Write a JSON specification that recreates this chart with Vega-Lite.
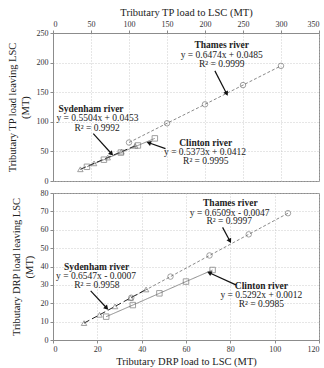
{
  "$schema": "https://vega.github.io/schema/vega-lite/v6.json",
  "padding": {"left": 6, "top": 6, "right": 4, "bottom": 2},
  "background": "white",
  "spacing": 2,
  "config": {
    "font": "Liberation Serif",
    "text": {"font": "Liberation Serif"},
    "view": {"stroke": "#8c8c8c", "strokeWidth": 1},
    "axis": {
      "labelFont": "Liberation Serif", "titleFont": "Liberation Serif",
      "labelFontSize": 8, "titleFontSize": 10.5, "titleFontWeight": "normal",
      "labelColor": "#333", "titleColor": "#222", "labelOverlap": false, "labelSeparation": 0, "labelPadding": 2,
      "domainColor": "#8c8c8c", "tickColor": "#8c8c8c", "tickSize": 3,
      "gridColor": "#c0c0c0", "gridDash": [1, 2], "gridWidth": 0.8
    }
  },
  "datasets": {
    "pts": [
      {"panel": "TP", "river": "Thames", "x": 100, "y": 65},
      {"panel": "TP", "river": "Thames", "x": 150, "y": 97.5},
      {"panel": "TP", "river": "Thames", "x": 200, "y": 129.5},
      {"panel": "TP", "river": "Thames", "x": 250, "y": 162},
      {"panel": "TP", "river": "Thames", "x": 300, "y": 194.5},
      {"panel": "TP", "river": "Clinton", "x": 44.7, "y": 24},
      {"panel": "TP", "river": "Clinton", "x": 67, "y": 36},
      {"panel": "TP", "river": "Clinton", "x": 89.3, "y": 48},
      {"panel": "TP", "river": "Clinton", "x": 111.7, "y": 60},
      {"panel": "TP", "river": "Clinton", "x": 134, "y": 72},
      {"panel": "TP", "river": "Sydenham", "x": 36, "y": 19.8},
      {"panel": "TP", "river": "Sydenham", "x": 54, "y": 29.8},
      {"panel": "TP", "river": "Sydenham", "x": 72, "y": 39.6},
      {"panel": "TP", "river": "Sydenham", "x": 90, "y": 49.5},
      {"panel": "TP", "river": "Sydenham", "x": 108, "y": 59.4},
      {"panel": "DRP", "river": "Thames", "x": 35.3, "y": 23},
      {"panel": "DRP", "river": "Thames", "x": 53, "y": 34.5},
      {"panel": "DRP", "river": "Thames", "x": 70.6, "y": 46},
      {"panel": "DRP", "river": "Thames", "x": 88.3, "y": 57.5},
      {"panel": "DRP", "river": "Thames", "x": 106, "y": 69},
      {"panel": "DRP", "river": "Clinton", "x": 24, "y": 12.7},
      {"panel": "DRP", "river": "Clinton", "x": 36, "y": 19},
      {"panel": "DRP", "river": "Clinton", "x": 48, "y": 25.4},
      {"panel": "DRP", "river": "Clinton", "x": 60, "y": 31.8},
      {"panel": "DRP", "river": "Clinton", "x": 72, "y": 38.1},
      {"panel": "DRP", "river": "Sydenham", "x": 14, "y": 9.2},
      {"panel": "DRP", "river": "Sydenham", "x": 21, "y": 13.7},
      {"panel": "DRP", "river": "Sydenham", "x": 28, "y": 18.3},
      {"panel": "DRP", "river": "Sydenham", "x": 35, "y": 22.9},
      {"panel": "DRP", "river": "Sydenham", "x": 42, "y": 27.5}
    ],
    "notes": [
      {"panel": "TP", "kind": "name", "x": 222, "y": 229, "label": "Thames river"},
      {"panel": "TP", "kind": "eq", "x": 222, "y": 213, "label": "y = 0.6474x + 0.0485"},
      {"panel": "TP", "kind": "eq", "x": 222, "y": 197, "label": "R² = 0.9999"},
      {"panel": "TP", "kind": "name", "x": 50, "y": 121, "label": "Sydenham river"},
      {"panel": "TP", "kind": "eq", "x": 58.5, "y": 106, "label": "y = 0.5504x + 0.0453"},
      {"panel": "TP", "kind": "eq", "x": 58, "y": 90, "label": "R² = 0.9992"},
      {"panel": "TP", "kind": "name", "x": 201, "y": 64, "label": "Clinton river"},
      {"panel": "TP", "kind": "eq", "x": 200, "y": 48.5, "label": "y = 0.5373x + 0.0412"},
      {"panel": "TP", "kind": "eq", "x": 201, "y": 33, "label": "R² = 0.9995"},
      {"panel": "DRP", "kind": "name", "x": 80, "y": 74.5, "label": "Thames river"},
      {"panel": "DRP", "kind": "eq", "x": 79.7, "y": 69.3, "label": "y = 0.6509x - 0.0047"},
      {"panel": "DRP", "kind": "eq", "x": 79.5, "y": 64.5, "label": "R² = 0.9997"},
      {"panel": "DRP", "kind": "name", "x": 19.7, "y": 39.5, "label": "Sydenham river"},
      {"panel": "DRP", "kind": "eq", "x": 19.4, "y": 34.8, "label": "y = 0.6547x - 0.0007"},
      {"panel": "DRP", "kind": "eq", "x": 19.8, "y": 30, "label": "R² = 0.9958"},
      {"panel": "DRP", "kind": "name", "x": 94, "y": 29.5, "label": "Clinton river"},
      {"panel": "DRP", "kind": "eq", "x": 94, "y": 24.7, "label": "y = 0.5292x + 0.0012"},
      {"panel": "DRP", "kind": "eq", "x": 94, "y": 19.8, "label": "R² = 0.9985"}
    ],
    "arrows": [
      {"panel": "TP", "x": 213, "y": 186, "x2": 228.5, "y2": 147.5, "angle": 153},
      {"panel": "TP", "x": 53, "y": 80, "x2": 77, "y2": 46, "angle": 137},
      {"panel": "TP", "x": 148, "y": 54.6, "x2": 126, "y2": 64.7, "angle": 290},
      {"panel": "DRP", "x": 76.5, "y": 61.3, "x2": 79.8, "y2": 53.9, "angle": 152},
      {"panel": "DRP", "x": 17, "y": 26.7, "x2": 24.2, "y2": 17.4, "angle": 137},
      {"panel": "DRP", "x": 82.5, "y": 30, "x2": 70.5, "y2": 36.6, "angle": 295}
    ]
  },
  "vconcat": [
    {
      "width": 266, "height": 148,
      "layer": [
        {
          "data": {"name": "pts"},
          "transform": [{"filter": "datum.panel == 'TP'"}],
          "mark": {"type": "line", "strokeWidth": 1},
          "encoding": {
            "x": {"field": "x", "type": "quantitative", "scale": {"domain": [0, 350], "nice": false},
                  "axis": {"orient": "top", "tickCount": 7, "labelOverlap": false, "title": "Tributary TP load to LSC (MT)", "titlePadding": 3}},
            "y": {"field": "y", "type": "quantitative", "scale": {"domain": [0, 250], "nice": false},
                  "axis": {"tickCount": 5, "labelOverlap": false, "title": ["Tributary TP load leaving LSC", "(MT)"], "titlePadding": 6}},
            "detail": {"field": "river"},
            "color": {"field": "river", "type": "nominal", "legend": null,
                      "scale": {"domain": ["Thames", "Clinton", "Sydenham"], "range": ["#8a8a8a", "#8a8a8a", "#222222"]}},
            "strokeDash": {"field": "river", "type": "nominal", "legend": null,
                      "scale": {"domain": ["Thames", "Clinton", "Sydenham"], "range": [[3, 2], [1, 0], [6, 3]]}}
          }
        },
        {
          "data": {"name": "pts"},
          "transform": [{"filter": "datum.panel == 'TP'"}],
          "mark": {"type": "point", "filled": false, "strokeWidth": 0.9, "size": 30, "color": "#6a6a6a"},
          "encoding": {
            "x": {"field": "x", "type": "quantitative"},
            "y": {"field": "y", "type": "quantitative"},
            "shape": {"field": "river", "type": "nominal", "legend": null,
                      "scale": {"domain": ["Thames", "Clinton", "Sydenham"], "range": ["circle", "square", "triangle-up"]}}
          }
        },
        {
          "data": {"name": "notes"},
          "transform": [{"filter": "datum.panel == 'TP' && datum.kind == 'name'"}],
          "mark": {"type": "text", "font": "Liberation Serif", "fontSize": 9.5, "fontWeight": "bold", "align": "center", "baseline": "middle", "color": "#222"},
          "encoding": {
            "x": {"field": "x", "type": "quantitative"},
            "y": {"field": "y", "type": "quantitative"},
            "text": {"field": "label"}
          }
        },
        {
          "data": {"name": "notes"},
          "transform": [{"filter": "datum.panel == 'TP' && datum.kind == 'eq'"}],
          "mark": {"type": "text", "font": "Liberation Serif", "fontSize": 9.5, "align": "center", "baseline": "middle", "color": "#222"},
          "encoding": {
            "x": {"field": "x", "type": "quantitative"},
            "y": {"field": "y", "type": "quantitative"},
            "text": {"field": "label"}
          }
        },
        {
          "data": {"name": "arrows"},
          "transform": [{"filter": "datum.panel == 'TP'"}],
          "mark": {"type": "rule", "color": "#111", "strokeWidth": 1.2},
          "encoding": {
            "x": {"field": "x", "type": "quantitative"},
            "y": {"field": "y", "type": "quantitative"},
            "x2": {"field": "x2"},
            "y2": {"field": "y2"}
          }
        },
        {
          "data": {"name": "arrows"},
          "transform": [{"filter": "datum.panel == 'TP'"}],
          "mark": {"type": "point", "shape": "triangle-up", "filled": true, "color": "#111", "size": 28, "opacity": 1},
          "encoding": {
            "x": {"field": "x2", "type": "quantitative"},
            "y": {"field": "y2", "type": "quantitative"},
            "angle": {"field": "angle", "type": "quantitative", "scale": null}
          }
        }
      ]
    },
    {
      "width": 266, "height": 147,
      "layer": [
        {
          "data": {"name": "pts"},
          "transform": [{"filter": "datum.panel == 'DRP'"}],
          "mark": {"type": "line", "strokeWidth": 1},
          "encoding": {
            "x": {"field": "x", "type": "quantitative", "scale": {"domain": [0, 120], "nice": false},
                  "axis": {"tickCount": 6, "labelOverlap": false, "title": "Tributary DRP load to LSC (MT)", "titlePadding": 3}},
            "y": {"field": "y", "type": "quantitative", "scale": {"domain": [0, 80], "nice": false},
                  "axis": {"tickCount": 8, "labelOverlap": false, "title": ["Tributary DRP load leaving LSC", "(MT)"], "titlePadding": 6}},
            "detail": {"field": "river"},
            "color": {"field": "river", "type": "nominal", "legend": null,
                      "scale": {"domain": ["Thames", "Clinton", "Sydenham"], "range": ["#8a8a8a", "#8a8a8a", "#222222"]}},
            "strokeDash": {"field": "river", "type": "nominal", "legend": null,
                      "scale": {"domain": ["Thames", "Clinton", "Sydenham"], "range": [[3, 2], [1, 0], [6, 3]]}}
          }
        },
        {
          "data": {"name": "pts"},
          "transform": [{"filter": "datum.panel == 'DRP'"}],
          "mark": {"type": "point", "filled": false, "strokeWidth": 0.9, "size": 30, "color": "#6a6a6a"},
          "encoding": {
            "x": {"field": "x", "type": "quantitative"},
            "y": {"field": "y", "type": "quantitative"},
            "shape": {"field": "river", "type": "nominal", "legend": null,
                      "scale": {"domain": ["Thames", "Clinton", "Sydenham"], "range": ["circle", "square", "triangle-up"]}}
          }
        },
        {
          "data": {"name": "notes"},
          "transform": [{"filter": "datum.panel == 'DRP' && datum.kind == 'name'"}],
          "mark": {"type": "text", "font": "Liberation Serif", "fontSize": 9.5, "fontWeight": "bold", "align": "center", "baseline": "middle", "color": "#222"},
          "encoding": {
            "x": {"field": "x", "type": "quantitative"},
            "y": {"field": "y", "type": "quantitative"},
            "text": {"field": "label"}
          }
        },
        {
          "data": {"name": "notes"},
          "transform": [{"filter": "datum.panel == 'DRP' && datum.kind == 'eq'"}],
          "mark": {"type": "text", "font": "Liberation Serif", "fontSize": 9.5, "align": "center", "baseline": "middle", "color": "#222"},
          "encoding": {
            "x": {"field": "x", "type": "quantitative"},
            "y": {"field": "y", "type": "quantitative"},
            "text": {"field": "label"}
          }
        },
        {
          "data": {"name": "arrows"},
          "transform": [{"filter": "datum.panel == 'DRP'"}],
          "mark": {"type": "rule", "color": "#111", "strokeWidth": 1.2},
          "encoding": {
            "x": {"field": "x", "type": "quantitative"},
            "y": {"field": "y", "type": "quantitative"},
            "x2": {"field": "x2"},
            "y2": {"field": "y2"}
          }
        },
        {
          "data": {"name": "arrows"},
          "transform": [{"filter": "datum.panel == 'DRP'"}],
          "mark": {"type": "point", "shape": "triangle-up", "filled": true, "color": "#111", "size": 28, "opacity": 1},
          "encoding": {
            "x": {"field": "x2", "type": "quantitative"},
            "y": {"field": "y2", "type": "quantitative"},
            "angle": {"field": "angle", "type": "quantitative", "scale": null}
          }
        }
      ]
    }
  ]
}
